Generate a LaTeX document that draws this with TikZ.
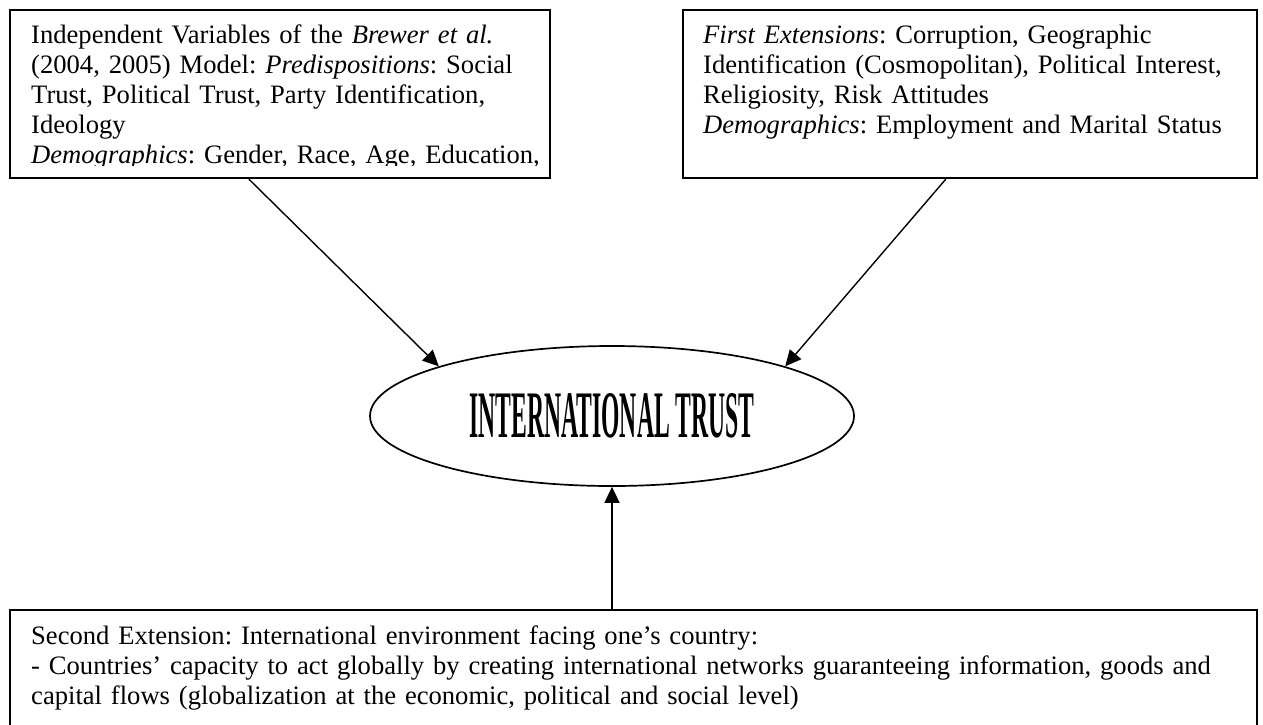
\documentclass[tikz,border=0pt]{standalone}
\usepackage{fontspec}
\setmainfont{Liberation Serif}
\usepackage{graphicx}
\usetikzlibrary{shapes.geometric,arrows.meta,calc}
\begin{document}
\frenchspacing
\begin{tikzpicture}[x=1pt,y=-1pt,
  boxframe/.style={draw, rectangle, line width=2.3pt, inner sep=0pt},
  boxtext/.style={anchor=base west, inner sep=0pt, align=left, text width=#1,
    font=\fontsize{26.6}{30}\selectfont\frenchspacing},
  link/.style={line width=1.4pt, -{Triangle[length=16pt,width=15pt]}}
]
\useasboundingbox (0,0) rectangle (1263,724);
\clip (0,0) rectangle (1263,724);

% frames
\node[boxframe, minimum width=540pt, minimum height=168pt] (lbox) at (280,94) {};
\node[boxframe, minimum width=574pt, minimum height=168pt] (rbox) at (970,94) {};
\node[boxframe, minimum width=1247pt, minimum height=160pt] (bbox) at (633.5,690) {};

% left box text, clipped at the inner margin
\begin{scope}
\clip (10,10) rectangle (550,165);
\node[boxtext=600pt] (ltext) at (31,43) {Independent Variables of the \textit{Brewer et al.}\\
(2004, 2005) Model: \textit{Predispositions}: Social\\
Trust, Political Trust, Party Identification,\\
Ideology\\
\textit{Demographics}: Gender, Race, Age, Education,};
\end{scope}

% right box text
\node[boxtext=600pt] (rtext) at (703,43) {\textit{First Extensions}: Corruption, Geographic\\
Identification (Cosmopolitan), Political Interest,\\
Religiosity, Risk Attitudes\\
\textit{Demographics}: Employment and Marital Status};

% bottom box text
\node[boxtext=1240pt] (btext) at (31,644) {Second Extension: International environment facing one’s country:\\
- Countries’ capacity to act globally by creating international networks guaranteeing information, goods and\\
capital flows (globalization at the economic, political and social level)};

% central ellipse
\node[ellipse, draw, line width=1.7pt, minimum width=484pt, minimum height=140pt, inner sep=0pt]
  (trust) at (612,416) {\resizebox{285pt}{44pt}{\bfseries INTERNATIONAL TRUST}};

% connectors
\draw[link] ($(lbox.south west)!0.4426!(lbox.south east)$) -- (trust.164.3);
\draw[link] ($(rbox.south west)!0.458!(rbox.south east)$) -- (trust.16);
\draw[link] (trust.south |- bbox.north) -- (trust.south);
\end{tikzpicture}
\end{document}
